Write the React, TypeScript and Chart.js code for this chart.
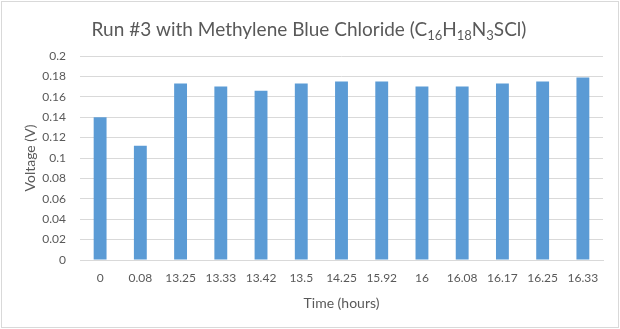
import React, { useEffect, useRef } from "react";
import { Chart, registerables } from "chart.js";

Chart.register(...registerables);

const categories = ["0", "0.08", "13.25", "13.33", "13.42", "13.5", "14.25", "15.92", "16", "16.08", "16.17", "16.25", "16.33"];
const voltages = [0.14, 0.112, 0.173, 0.17, 0.166, 0.173, 0.175, 0.175, 0.17, 0.17, 0.173, 0.175, 0.179];
const yTicks = [0, 0.02, 0.04, 0.06, 0.08, 0.1, 0.12, 0.14, 0.16, 0.18, 0.2];
const titleParts: { t: string; sub?: boolean }[] = [
  { t: "Run #3 with Methylene Blue Chloride (C" },
  { t: "16", sub: true },
  { t: "H" },
  { t: "18", sub: true },
  { t: "N" },
  { t: "3", sub: true },
  { t: "SCl)" },
];

const FONT = "Lato, 'Open Sans', sans-serif";
const TEXT = "#595959";

const titlePlugin = {
  id: "subTitle",
  beforeDraw(chart: any) {
    const ctx = chart.ctx;
    ctx.save();
    ctx.fillStyle = "#ffffff";
    ctx.fillRect(0, 0, chart.width, chart.height);
    ctx.strokeStyle = "#d9d9d9";
    ctx.lineWidth = 1;
    ctx.strokeRect(1.5, 1.5, chart.width - 3, chart.height - 3);
    ctx.restore();
  },
  afterDraw(chart: any) {
    const ctx = chart.ctx;
    ctx.save();
    const big = `19px ${FONT}`;
    const small = `13px ${FONT}`;
    let total = 0;
    for (const p of titleParts) {
      ctx.font = p.sub ? small : big;
      total += ctx.measureText(p.t).width;
    }
    let x = 309 - total / 2;
    const y = 30;
    ctx.fillStyle = TEXT;
    ctx.textBaseline = "middle";
    ctx.textAlign = "left";
    for (const p of titleParts) {
      ctx.font = p.sub ? small : big;
      ctx.fillText(p.t, x, p.sub ? y + 6 : y);
      x += ctx.measureText(p.t).width;
    }
    ctx.restore();
  },
};

export default function App() {
  const ref = useRef<HTMLCanvasElement>(null);
  useEffect(() => {
    document.body.style.margin = "0";
    const chart = new Chart(ref.current!, {
      type: "bar",
      data: {
        labels: categories,
        datasets: [
          {
            data: voltages,
            backgroundColor: "#5b9bd5",
            categoryPercentage: 1,
            barPercentage: 0.32,
          },
        ],
      },
      options: {
        animation: false,
        responsive: false,
        layout: { padding: { top: 56, right: 17, left: 0, bottom: 0 } },
        plugins: { legend: { display: false }, tooltip: { enabled: false } },
        scales: {
          x: {
            grid: { display: false, drawTicks: false },
            border: { color: "#d9d9d9" },
            ticks: { color: TEXT, font: { family: FONT, size: 12 }, padding: 11, maxRotation: 0, autoSkip: false },
            title: { display: true, text: "Time (hours)", color: TEXT, font: { family: FONT, size: 14 }, padding: { top: 4, bottom: 17 } },
            afterFit: (s: any) => { s.height = 69; },
          },
          y: {
            min: 0,
            max: 0.2,
            afterBuildTicks: (s: any) => { s.ticks = yTicks.map((v) => ({ value: v })); },
            grid: { color: "#d9d9d9", drawTicks: false },
            border: { display: false },
            ticks: {
              color: TEXT,
              font: { family: FONT, size: 12 },
              padding: 14,
              callback: (v: any) => String(Math.round(Number(v) * 100) / 100),
            },
            title: { display: true, text: "Voltage (V)", color: TEXT, font: { family: FONT, size: 14 }, padding: { top: 22, bottom: 0 } },
            afterFit: (s: any) => { s.width = 80; },
          },
        },
      },
      plugins: [titlePlugin],
    });
    return () => chart.destroy();
  }, []);
  return (
    <div style={{ width: 620, height: 329 }}>
      <canvas ref={ref} width={620} height={329} style={{ display: "block" }} />
    </div>
  );
}
